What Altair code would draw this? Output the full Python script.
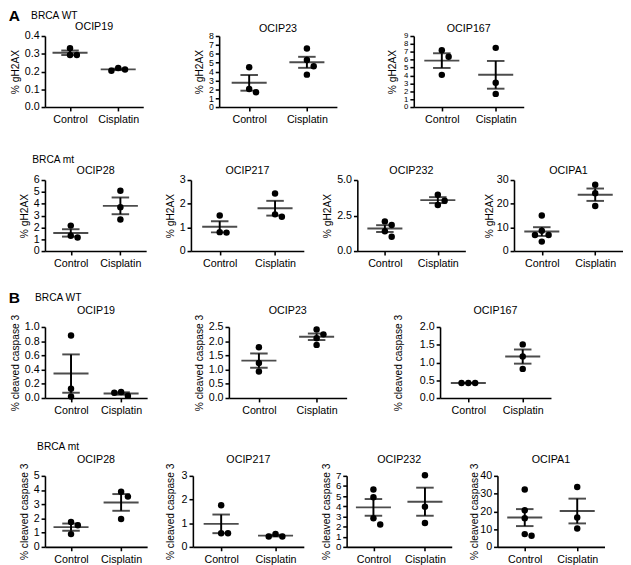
import math
import altair as alt
import pandas as pd

GROUPS = ["Control", "Cisplatin"]

# ---------------- A: % gH2AX ----------------
a_wt_names = ["OCIP19", "OCIP23", "OCIP167"]
a_wt_ocip19_control = [0.331, 0.293, 0.293]
a_wt_ocip19_cisplatin = [0.220, 0.212, 0.205]
a_wt_ocip23_control = [4.48, 2.03, 1.67]
a_wt_ocip23_cisplatin = [6.60, 5.30, 4.60, 3.65]
a_wt_ocip167_control = [7.19, 6.38, 4.08]
a_wt_ocip167_cisplatin = [7.50, 3.08, 1.67]

a_mt_names = ["OCIP28", "OCIP217", "OCIP232", "OCIPA1"]
a_mt_ocip28_control = [2.15, 1.30, 1.15]
a_mt_ocip28_cisplatin = [5.10, 3.70, 2.66]
a_mt_ocip217_control = [1.50, 0.80, 0.78]
a_mt_ocip217_cisplatin = [2.43, 1.55, 1.45]
a_mt_ocip232_control = [2.09, 1.84, 1.39, 1.01]
a_mt_ocip232_cisplatin = [3.97, 3.54, 3.25]
a_mt_ocipa1_control = [15.0, 8.6, 6.8, 6.8, 4.0]
a_mt_ocipa1_cisplatin = [28.0, 24.4, 19.0]

# ---------------- B: % cleaved caspase 3 ----------------
b_wt_names = ["OCIP19", "OCIP23", "OCIP167"]
b_wt_ocip19_control = [0.88, 0.13, 0.022]
b_wt_ocip19_cisplatin = [0.085, 0.030, 0.075]
b_wt_ocip23_control = [1.79, 1.23, 0.93]
b_wt_ocip23_cisplatin = [2.41, 2.24, 2.10, 1.87]
b_wt_ocip167_control = [0.42, 0.42, 0.42]
b_wt_ocip167_cisplatin = [1.51, 1.17, 0.82]

b_mt_names = ["OCIP28", "OCIP217", "OCIP232", "OCIPA1"]
b_mt_ocip28_control = [1.75, 1.52, 0.90]
b_mt_ocip28_cisplatin = [3.88, 3.54, 1.97]
b_mt_ocip217_control = [1.76, 0.58, 0.58]
b_mt_ocip217_cisplatin = [0.55, 0.44, 0.44]
b_mt_ocip232_control = [5.65, 4.90, 2.82, 2.20]
b_mt_ocip232_cisplatin = [7.06, 3.95, 2.35]
b_mt_ocipa1_control = [32.3, 20.6, 16.1, 7.2, 6.3]
b_mt_ocipa1_cisplatin = [33.7, 16.5, 10.4]

# y axis tick labels (max, step, format)
a_wt_axes = [(0.4, 0.1, ".1f"), (8, 1, "d"), (9, 1, "d")]
a_mt_axes = [(6, 1, "d"), (3, 1, "d"), (5.0, 2.5, ".1f"), (30, 10, "d")]
b_wt_axes = [(1.0, 0.2, ".1f"), (2.5, 0.5, ".1f"), (2.0, 0.5, ".1f")]
b_mt_axes = [(5, 1, "d"), (3, 1, "d"), (7, 1, "d"), (40, 10, "d")]

FONT = "Liberation Sans"
XDOM = [-0.52, 1.52]
SPAN = XDOM[1] - XDOM[0]
DOT = 7.0


def swarm(values, px_per_unit):
    placed, offs = [], []
    cands = [0.0]
    for i in range(1, 6):
        cands += [i * DOT, -i * DOT]
    for v in values:
        y = v * px_per_unit
        chosen = cands[-1]
        for c in cands:
            if all((c - px) ** 2 + (y - py) ** 2 >= (DOT - 0.3) ** 2 for px, py in placed):
                chosen = c
                break
        placed.append((chosen, y))
        offs.append(chosen)
    return offs


def panel(name, ctrl, cis, axis_spec, W, H, ytitle, tpad=4):
    ymax, step, fmt = axis_spec
    n_ticks = int(round(ymax / step))
    ticks = [round(i * step, 4) for i in range(n_ticks + 1)]
    pxu = H / ymax
    unit_px = W / SPAN
    rows, stats, caps = [], [], []
    for gi, vals in enumerate([ctrl, cis]):
        offs = swarm(vals, pxu)
        for v, o in zip(vals, offs):
            rows.append({"x": gi + o / unit_px, "v": v})
        s = pd.Series(vals)
        m = s.mean()
        se = s.std(ddof=1) / math.sqrt(len(s))
        stats.append({"x": gi, "mean": m, "lo": m - se, "hi": m + se})
        caps.append({"x": gi, "v": m - se})
        caps.append({"x": gi, "v": m + se})
    pts = pd.DataFrame(rows)
    st = pd.DataFrame(stats)
    cp = pd.DataFrame(caps)

    label_size = min(11, math.floor(H / n_ticks))

    xs = alt.Scale(domain=XDOM, nice=False, zero=False)
    ys = alt.Scale(domain=[0, ymax], nice=False, zero=True)
    xaxis = alt.Axis(values=[0, 1], title=None, grid=False,
                     labelExpr="datum.value == 0 ? 'Control' : 'Cisplatin'",
                     labelPadding=3, labelFontSize=11)
    yaxis = alt.Axis(values=ticks, format=fmt, title=ytitle, grid=False,
                     labelOverlap=False, labelPadding=2, titlePadding=tpad,
                     labelFontSize=label_size)
    X = alt.X("x:Q", scale=xs, axis=xaxis, title=None)
    Y = alt.Y("v:Q", scale=ys, axis=yaxis, title=ytitle)

    p = alt.Chart(pts).mark_circle(size=44, color="black", opacity=1).encode(x=X, y=Y)
    mean = alt.Chart(st).mark_tick(orient="horizontal", size=36, thickness=2, color="black").encode(
        x=X, y=alt.Y("mean:Q", scale=ys, axis=yaxis, title=ytitle))
    err = alt.Chart(st).mark_rule(strokeWidth=2, color="black").encode(
        x=X, y=alt.Y("lo:Q", scale=ys, axis=yaxis, title=ytitle), y2="hi:Q")
    cap = alt.Chart(cp).mark_tick(orient="horizontal", size=18, thickness=2, color="black").encode(
        x=X, y=Y)
    return alt.layer(p, err, cap, mean).properties(
        width=W, height=H,
        title=alt.TitleParams(name, fontSize=11, fontWeight="normal", frame="group",
                              anchor="middle", offset=-2),
    )


H = 73
GH = "% gH2AX"
CC = "% cleaved caspase 3"


def row_title(text, dx, offset=0):
    return alt.TitleParams(text, anchor="start", dx=dx, fontSize=10.5,
                           fontWeight="normal", offset=offset)


row1 = alt.hconcat(
    panel(a_wt_names[0], a_wt_ocip19_control, a_wt_ocip19_cisplatin, a_wt_axes[0], 101, H, GH),
    panel(a_wt_names[1], a_wt_ocip23_control, a_wt_ocip23_cisplatin, a_wt_axes[1], 121, H, GH),
    panel(a_wt_names[2], a_wt_ocip167_control, a_wt_ocip167_cisplatin, a_wt_axes[2], 113, H, GH, tpad=6),
    spacing=52,
).properties(title=row_title("BRCA WT", 21))

row2 = alt.hconcat(
    panel(a_mt_names[0], a_mt_ocip28_control, a_mt_ocip28_cisplatin, a_mt_axes[0], 104, H, GH, tpad=4),
    panel(a_mt_names[1], a_mt_ocip217_control, a_mt_ocip217_cisplatin, a_mt_axes[1], 116, H, GH),
    panel(a_mt_names[2], a_mt_ocip232_control, a_mt_ocip232_cisplatin, a_mt_axes[2], 111, H, GH),
    panel(a_mt_names[3], a_mt_ocipa1_control, a_mt_ocipa1_cisplatin, a_mt_axes[3], 112, H, GH, tpad=2),
    spacing=19,
).properties(title=row_title("BRCA mt", 13))

row3 = alt.hconcat(
    panel(b_wt_names[0], b_wt_ocip19_control, b_wt_ocip19_cisplatin, b_wt_axes[0], 105, H, CC),
    panel(b_wt_names[1], b_wt_ocip23_control, b_wt_ocip23_cisplatin, b_wt_axes[1], 121, H, CC),
    panel(b_wt_names[2], b_wt_ocip167_control, b_wt_ocip167_cisplatin, b_wt_axes[2], 114, H, CC, tpad=16),
    spacing=48,
).properties(title=row_title("BRCA WT", 25, offset=2))

row4 = alt.hconcat(
    panel(b_mt_names[0], b_mt_ocip28_control, b_mt_ocip28_cisplatin, b_mt_axes[0], 105, H, CC),
    panel(b_mt_names[1], b_mt_ocip217_control, b_mt_ocip217_cisplatin, b_mt_axes[1], 114, H, CC, tpad=6),
    panel(b_mt_names[2], b_mt_ocip232_control, b_mt_ocip232_cisplatin, b_mt_axes[2], 108, H, CC),
    panel(b_mt_names[3], b_mt_ocipa1_control, b_mt_ocipa1_cisplatin, b_mt_axes[3], 110, H, CC, tpad=0),
    spacing=18,
).properties(title=row_title("BRCA mt", 18, offset=2))

secA = alt.vconcat(row1, row2, spacing=31).properties(
    title=alt.TitleParams("A", anchor="start", fontSize=16, fontWeight="bold", dx=-2, offset=-13))
secB = alt.vconcat(row3, row4, spacing=27).properties(
    title=alt.TitleParams("B", anchor="start", fontSize=16, fontWeight="bold", dx=-2, offset=-13))

chart = alt.vconcat(secA, secB, spacing=22).properties(
    padding={"left": 0, "top": -8, "right": 0, "bottom": 0}
).configure_view(stroke=None).configure_axis(
    grid=False, domainColor="black", domainWidth=1.6, tickColor="black", tickWidth=1.6,
    tickSize=4, labelColor="black", titleColor="black", labelFont=FONT, titleFont=FONT,
    titleFontSize=10.5, titleFontWeight="normal",
).configure_title(font=FONT, color="black")

chart.save("out.html", embed_options={"renderer": "svg", "actions": False})
